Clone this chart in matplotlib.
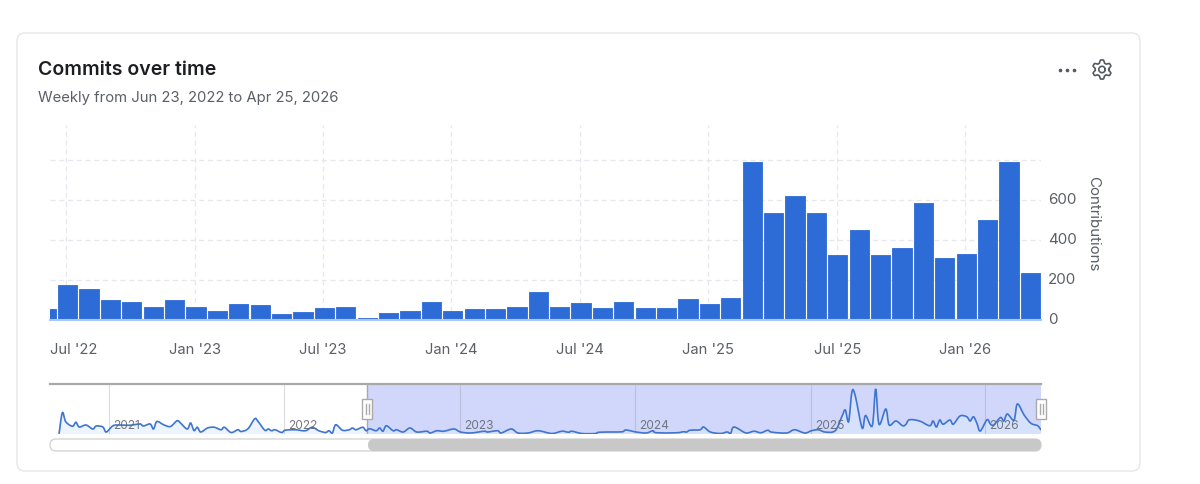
import numpy as np
import matplotlib
matplotlib.use("Agg")
import matplotlib.pyplot as plt
from matplotlib.patches import FancyBboxPatch, PathPatch, Rectangle
from matplotlib.path import Path
from matplotlib.transforms import ScaledTranslation

plt.rcParams['font.family'] = ['Inter', 'DejaVu Sans']

# monthly commits, first bar is the cut off Jun '22
commits = [55, 173, 155, 98, 92, 67, 98, 67, 47, 78, 73, 28, 42, 60, 67, 10, 35, 47,
           92, 47, 53, 53, 67, 142, 67, 87, 60, 92, 60, 60, 103, 78, 110, 788, 537,
           618, 537, 323, 448, 323, 362, 587, 310, 330, 498, 788, 235]
month_ticks = [0.94, 6.94, 12.94, 18.94, 24.94, 30.94, 36.97, 42.97]
month_labels = ["Jul '22", "Jan '23", "Jul '23", "Jan '24", "Jul '24", "Jan '25", "Jul '25", "Jan '26"]
y_ticks = [0, 200, 400, 600, 800]
y_labels = ["0", "200", "400", "600", ""]

# overview series, weeks since the first commit
week = [0, 1, 2, 4, 5, 6, 8, 10, 11, 13, 14, 16, 18, 21, 24, 25, 27, 28, 29, 31, 33, 35, 36, 38,
        39, 40, 41, 42, 44, 46, 48, 49, 51, 53, 54, 56, 58, 59, 61, 62, 63, 64, 66, 67, 70, 73,
        75, 77, 79, 80, 81, 82, 84, 86, 87, 88, 90, 91, 92, 94, 95, 96, 97, 99, 100, 102, 104,
        106, 109, 110, 112, 114, 117, 119, 122, 126, 127, 130, 131, 134, 136, 139, 142, 146,
        149, 151, 152, 155, 159, 160, 164, 167, 168, 171, 174, 176, 177, 183, 185, 186, 187,
        190, 191, 193, 196, 198, 199, 200, 203, 204, 206, 208, 210, 211, 214, 216, 218, 221,
        223, 225, 227, 230, 232, 233, 234, 235, 236, 238, 239, 241, 242, 243, 245, 246, 248,
        250, 251, 252, 255, 258, 259, 260, 261, 262, 264, 265, 267, 269, 270, 271, 272, 273,
        275, 276, 277, 279, 280, 281, 283, 284, 286, 288, 290, 291]
weekly = [0, 85, 49, 31, 47, 28, 36, 20, 32, 28, 8, 33, 36, 35, 40, 32, 40, 20, 50, 37, 30, 53, 44, 20,
          44, 14, 27, 8, 24, 27, 17, 27, 6, 17, 10, 21, 61, 50, 15, 20, 13, 17, 6, 15, 17, 13,
          27, 13, 6, 13, 4, 37, 15, 17, 24, 17, 27, 13, 21, 13, 24, 11, 33, 13, 17, 8, 24,
          8, 11, 4, 13, 11, 20, 8, 4, 11, 8, 13, 4, 20, 4, 4, 13, 2,
          11, 7, 11, 2, 2, 7, 8, 9, 16, 8, 4, 13, 5, 5, 9, 8, 15,
          17, 28, 8, 2, 8, 2, 28, 7, 4, 11, 5, 15, 8, 4, 5, 17, 4,
          13, 17, 8, 13, 70, 96, 50, 170, 150, 24, 74, 33, 180, 39, 100, 36, 52,
          33, 39, 57, 52, 33, 52, 28, 56, 39, 56, 39, 72, 69, 52, 69, 43, 12,
          57, 40, 36, 66, 52, 80, 56, 120, 76, 43, 33, 16]
year_weeks = [14.7, 66.8, 118.7, 170.8, 222.9, 274.4]
year_labels = ["2021", "2022", "2023", "2024", "2025", "2026"]
selected_from = 91.2

BLUE = "#2d6bd7"
GRID = "#e7e7ee"
TEXT = "#5b5f66"
W, H = 1200, 485
DY = 1


def px_axes(fig, left, top, right, bottom, **kw):
    return fig.add_axes((left / W, 1 - (bottom + DY) / H, (right - left) / W, (bottom - top) / H), **kw)


def smooth_path(xs, ys):
    # catmull-rom through the points, the overview line is a smoothed one
    xs, ys = np.asarray(xs, float), np.asarray(ys, float)
    verts = [(xs[0], ys[0])]
    codes = [Path.MOVETO]
    for i in range(len(xs) - 1):
        a, b = max(i - 1, 0), min(i + 2, len(xs) - 1)
        verts.append((xs[i] + (xs[i + 1] - xs[a]) / 6, ys[i] + (ys[i + 1] - ys[a]) / 6))
        verts.append((xs[i + 1] - (xs[b] - xs[i]) / 6, ys[i + 1] - (ys[b] - ys[i]) / 6))
        verts.append((xs[i + 1], ys[i + 1]))
        codes += [Path.CURVE4] * 3
    return verts, codes


fig = plt.figure(figsize=(12, 4.85), dpi=100, facecolor="white")

# card and header
bg = fig.add_axes((0, 0, 1, 1), zorder=0)
bg.set_xlim(0, W)
bg.set_ylim(H - DY, -DY)
bg.axis("off")
bg.add_patch(FancyBboxPatch((17, 33), 1123, 438, boxstyle="round,pad=0,rounding_size=8",
                            fc="white", ec="#e3e4e6", lw=0.9))
bg.text(38, 69, "Commits over time", fontsize=14.05, fontweight=600, color="#1c1e22", va="center")
bg.text(38, 97, "Weekly from Jun 23, 2022 to Apr 25, 2026", fontsize=10.7, color=TEXT, va="center")
bg.scatter([1060, 1067, 1074], [69.5, 69.5, 69.5], s=7, color="#555a62", lw=0)

# gear icon
t = np.linspace(0, 2 * np.pi, 200)
r = 8.2 + 1.4 * np.clip(np.cos(6 * (t + np.pi / 6)) * 1.6, -1, 1)
bg.plot(1102 + r * np.cos(t), 69.5 + r * np.sin(t), color="#555a62", lw=1.2)
bg.plot(1102 + 3.2 * np.cos(t), 69.5 + 3.2 * np.sin(t), color="#555a62", lw=1.2)

# main bars
ax = px_axes(fig, 50, 125, 1041, 320, zorder=1)
ax.patch.set_visible(False)
idx = np.arange(len(commits))
bars = ax.bar(idx, commits, width=0.9, color=BLUE, edgecolor=BLUE, lw=0.6, zorder=3)
for b in bars:
    b.set_joinstyle("round")
ax.axhline(0, color="#a9c8f6", lw=1.5, zorder=4, clip_on=False)
ax.set_xlim(0.173, 46.5)
ax.set_ylim(0, 975)
ax.set_xticks(month_ticks, month_labels)
ax.set_yticks(y_ticks, y_labels)
ax.yaxis.tick_right()
ax.tick_params(length=0, labelsize=10.6, labelcolor=TEXT)
ax.tick_params(axis="x", pad=15.5)
ax.tick_params(axis="y", pad=5, labelsize=10.9)
ax.grid(True, color=GRID, ls=(0, (4, 3)), lw=0.9, zorder=0)
ax.set_axisbelow(True)
for s in ax.spines.values():
    s.set_visible(False)
for lab in ax.get_yticklabels():
    lab.set_transform(lab.get_transform() + ScaledTranslation(0, 2 / 72, fig.dpi_scale_trans))
first = ax.get_xticklabels()[0]
first.set_transform(first.get_transform() + ScaledTranslation(5 / 72, 0, fig.dpi_scale_trans))
bg.text(1093, 223, "Contributions", fontsize=10.9, color=TEXT, rotation=-90, ha="center", va="center")

# overview
mini = px_axes(fig, 50, 384, 1041, 434, zorder=2)
mini.patch.set_visible(False)
mini.set_xlim(-2.67, 291)
mini.set_ylim(0, 200)
mini.axvspan(selected_from, 291, color="#d0d7fa", lw=0, zorder=1)
verts, codes = smooth_path(week, weekly)
area = Path(verts + [(week[-1], 0), (week[0], 0), (week[0], 0)],
            codes + [Path.LINETO, Path.LINETO, Path.CLOSEPOLY])
mini.add_patch(PathPatch(area, fc="#dcebff", ec="none", alpha=0.55, zorder=2))
mini.add_patch(PathPatch(Path(verts, codes), fc="none", ec="#3f74d0", lw=1.2, zorder=4))
mini.set_xticks(year_weeks)
mini.set_xticklabels([])
mini.set_yticks([])
mini.tick_params(length=0)
mini.grid(True, axis="x", color="#8a8a9a", alpha=0.3, lw=0.8, zorder=2)
mini.set_axisbelow(False)
for s in mini.spines.values():
    s.set_visible(False)
mini.axhline(200, color="#a8a8a8", lw=1.6, clip_on=False, zorder=5)
mini.axvline(selected_from, color="#a8a8b4", lw=1, zorder=3)
for w, lab in zip(year_weeks, year_labels):
    mini.annotate(lab, (w, 0), xytext=(3, 2.5), textcoords="offset points", fontsize=8.6,
                  color="#666a72", alpha=0.9, va="bottom", zorder=6)

# slider handles and scrollbar
top = fig.add_axes((0, 0, 1, 1), zorder=5)
top.set_xlim(0, W)
top.set_ylim(H - DY, -DY)
top.axis("off")
for cx in [367, 1041]:
    top.add_patch(Rectangle((cx - 5, 399), 10, 20, fc="white", ec="#aaaaaa", lw=1))
    top.plot([cx - 1.5, cx - 1.5], [404, 414], color="#aaaaaa", lw=1)
    top.plot([cx + 1.5, cx + 1.5], [404, 414], color="#aaaaaa", lw=1)
top.add_patch(FancyBboxPatch((50, 439), 991, 12, boxstyle="round,pad=0,rounding_size=6",
                             fc="white", ec="#d4d4d4", lw=1))
top.add_patch(FancyBboxPatch((368, 439), 673, 12, boxstyle="round,pad=0,rounding_size=6",
                             fc="#c8c8c8", ec="none"))

fig.savefig("out.png", dpi=100)
